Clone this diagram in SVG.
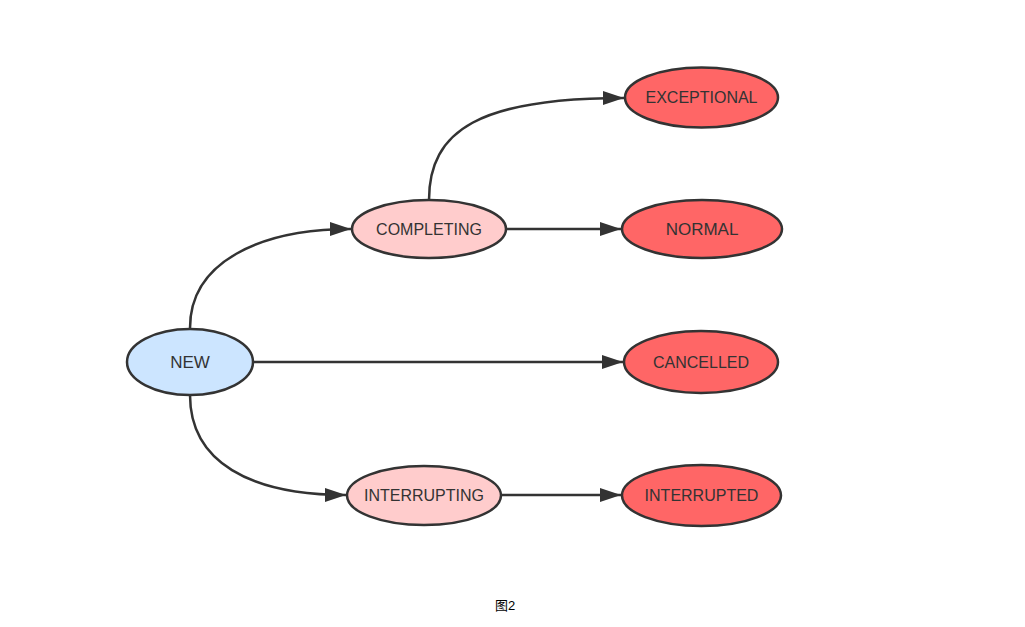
<svg xmlns="http://www.w3.org/2000/svg" width="1025" height="627" viewBox="0 0 1025 627">
<defs>
<marker id="arr" markerUnits="userSpaceOnUse" markerWidth="22" markerHeight="14" refX="21" refY="7" orient="auto">
<path d="M0 0 L21 7 L0 14 Z" fill="#333333"/>
</marker>
<style>
.n{stroke:#333333;stroke-width:2.5}
.new{fill:#cce5ff}
.mid{fill:#ffcccc}
.fin{fill:#ff6666}
.t{font-family:"Liberation Sans",Arial,sans-serif;font-size:16px;fill:#333333;text-anchor:middle;dominant-baseline:central}
.e{fill:none;stroke:#333333;stroke-width:2.5;marker-end:url(#arr)}
</style>
</defs>
<rect width="1025" height="627" fill="#ffffff"/>
<g id="connectors">
<path class="e" d="M190 328 C190 262 260 229 351 229"/>
<path class="e" d="M429 200 C429 130 480 98 624 98"/>
<path class="e" d="M506 229 L621 229"/>
<path class="e" d="M253 362 L623 362"/>
<path class="e" d="M190 395 C190 462 250 495 346 495"/>
<path class="e" d="M501 495 L621 495"/>
</g>
<g id="node-new"><ellipse class="n new" cx="190" cy="362" rx="63" ry="33"/><text class="t" x="190" y="362" style="font-size:17px">NEW</text></g>
<g id="node-completing"><ellipse class="n mid" cx="429" cy="229" rx="77" ry="29"/><text class="t" x="429" y="229">COMPLETING</text></g>
<g id="node-exceptional"><ellipse class="n fin" cx="701.5" cy="97.5" rx="76.5" ry="30"/><text class="t" x="701.5" y="97.5">EXCEPTIONAL</text></g>
<g id="node-normal"><ellipse class="n fin" cx="702" cy="229" rx="80" ry="29"/><text class="t" x="702" y="229" style="font-size:17px">NORMAL</text></g>
<g id="node-cancelled"><ellipse class="n fin" cx="701" cy="362" rx="77" ry="31"/><text class="t" x="701" y="362">CANCELLED</text></g>
<g id="node-interrupting"><ellipse class="n mid" cx="424" cy="495.5" rx="77" ry="29.5"/><text class="t" x="424" y="495.5">INTERRUPTING</text></g>
<g id="node-interrupted"><ellipse class="n fin" cx="701.5" cy="495.5" rx="79.5" ry="30.5"/><text class="t" x="701.5" y="495.5">INTERRUPTED</text></g>
<text x="505" y="605" style="font-family:'Liberation Sans','Noto Sans CJK SC',sans-serif;font-size:13px;fill:#000000;text-anchor:middle;dominant-baseline:central">图2</text>
</svg>
